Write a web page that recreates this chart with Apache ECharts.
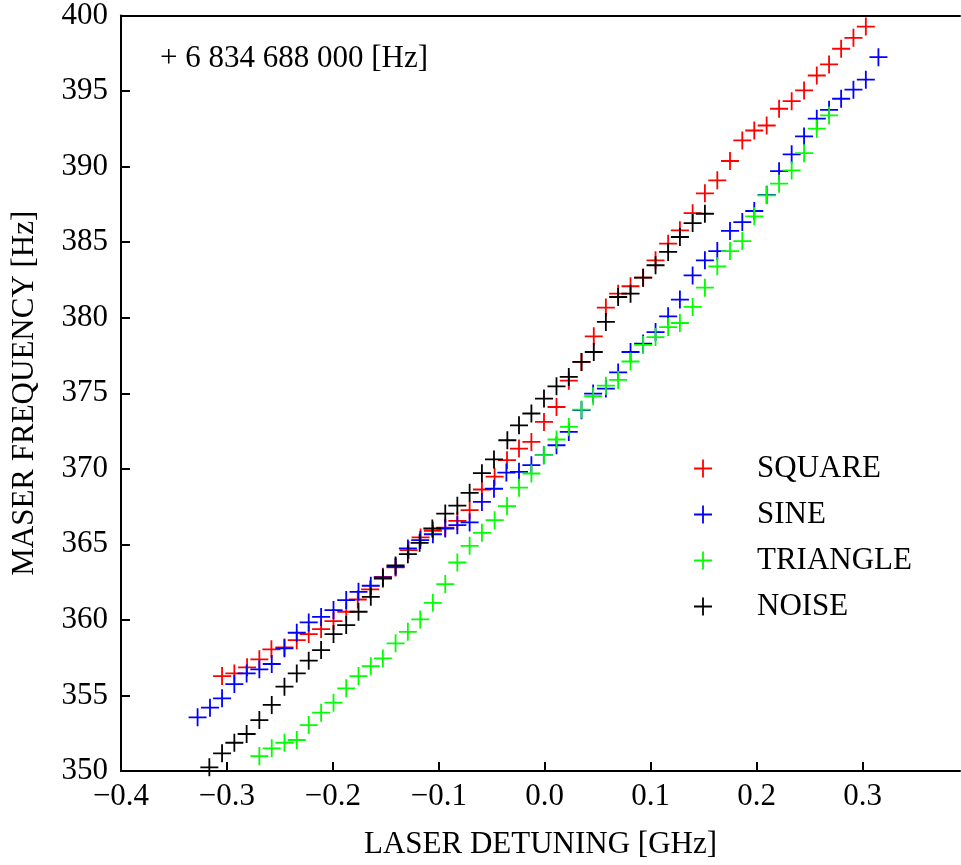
<!DOCTYPE html>
<html>
<head>
<meta charset="utf-8">
<script src="https://cdn.jsdelivr.net/npm/echarts@6/dist/echarts.min.js"></script>
<style>html,body{margin:0;padding:0;background:#fff;}#chart{width:961px;height:865px;}</style>
</head>
<body>
<div id="chart"></div>
<script>
// ---- data ----
var seriesNames = ['SQUARE', 'SINE', 'TRIANGLE', 'NOISE'];
var xTicks = [-0.4, -0.3, -0.2, -0.1, 0.0, 0.1, 0.2, 0.3];
var yTicks = [350, 355, 360, 365, 370, 375, 380, 385, 390, 395, 400];

var squareX = [-0.3046,-0.293,-0.281,-0.2694,-0.258,-0.2457,-0.2341,-0.2228,-0.2111,-0.1994,-0.1874,-0.1765,-0.1648,-0.1528,-0.1408,-0.1285,-0.1172,-0.1056,-0.0939,-0.0825,-0.0709,-0.0593,-0.0473,-0.0356,-0.0243,-0.0126,-0.0007,0.0111,0.0227,0.0347,0.0463,0.0577,0.0693,0.081,0.0929,0.1046,0.1165,0.1276,0.1396,0.1512,0.1629,0.1749,0.1865,0.1978,0.2095,0.2212,0.2331,0.2448,0.2568,0.2684,0.2798,0.2914,0.3031];
var squareY = [356.28,356.46,356.86,357.39,358.05,358.18,358.66,359.06,359.39,359.92,360.54,361.35,362.02,362.85,363.47,364.62,365.46,365.9,366.1,366.55,367.26,368.63,369.48,370.57,371.34,371.78,373.1,374.09,375.83,377.07,378.77,380.67,381.59,382.08,382.65,383.8,384.9,385.78,386.92,388.23,389.09,390.37,391.73,392.39,392.72,393.83,394.33,395.04,396.03,396.76,397.8,398.52,399.27];

var sineX = [-0.3277,-0.316,-0.3046,-0.293,-0.2814,-0.2694,-0.2577,-0.2457,-0.2341,-0.2228,-0.2111,-0.1994,-0.1874,-0.1758,-0.1642,-0.1528,-0.1408,-0.1292,-0.1175,-0.1056,-0.0939,-0.0825,-0.0709,-0.0593,-0.0479,-0.0362,-0.0243,-0.0126,-0.0009,0.0111,0.0227,0.0347,0.0457,0.0577,0.0693,0.081,0.0929,0.1046,0.1165,0.1276,0.1396,0.1512,0.1629,0.1749,0.1865,0.1978,0.2095,0.2212,0.2331,0.2448,0.2568,0.2684,0.2798,0.2914,0.3031,0.315];
var sineY = [353.55,354.19,354.81,355.75,356.46,356.73,357.08,358.12,359.15,359.83,360.2,360.65,361.31,361.86,362.26,362.81,363.51,364.73,365.28,365.67,366.05,366.27,366.45,367.81,368.68,369.75,369.8,370.24,370.9,371.56,372.44,373.88,374.98,375.31,376.38,377.73,378.29,379.05,380.09,381.2,382.8,383.8,384.41,385.74,386.33,387.06,388.13,389.7,390.81,392.0,393.17,393.76,394.49,395.09,395.75,397.24];

var triangleX = [-0.2694,-0.2577,-0.2457,-0.2341,-0.2228,-0.2111,-0.1994,-0.1874,-0.1758,-0.1642,-0.1528,-0.1408,-0.1292,-0.1175,-0.1056,-0.0939,-0.0825,-0.0709,-0.0593,-0.0473,-0.0356,-0.0243,-0.0126,-0.0007,0.0111,0.0227,0.0347,0.0457,0.0577,0.0693,0.081,0.0929,0.1046,0.1165,0.1276,0.1396,0.1512,0.1629,0.1749,0.1865,0.1978,0.2095,0.2212,0.2331,0.2448,0.2568,0.2684];
var triangleY = [350.99,351.5,351.87,352.05,353.04,353.86,354.52,355.47,356.28,356.94,357.45,358.45,359.21,360.03,361.13,362.37,363.8,364.9,365.76,366.6,367.53,368.75,369.69,370.9,371.94,372.77,373.92,374.8,375.5,375.88,377.1,378.2,378.72,379.38,379.65,380.71,381.99,383.4,384.41,385.07,386.71,388.1,388.87,389.75,390.89,392.51,393.39];

var noiseX = [-0.3166,-0.3046,-0.293,-0.2814,-0.2694,-0.2577,-0.2457,-0.2341,-0.2228,-0.2111,-0.1994,-0.1874,-0.1758,-0.1642,-0.1528,-0.1408,-0.1292,-0.1181,-0.1061,-0.0939,-0.0825,-0.0709,-0.0593,-0.0479,-0.0353,-0.0243,-0.0126,-0.0007,0.0111,0.0227,0.0347,0.0463,0.0577,0.0693,0.081,0.0929,0.1046,0.1165,0.1276,0.1396,0.1512];
var noiseY = [350.24,351.17,351.87,352.45,353.37,354.37,355.58,356.46,357.3,358.0,359.06,359.66,360.54,361.53,362.74,363.6,364.35,365.1,366.05,367.04,367.56,368.41,369.71,370.62,371.89,372.88,373.66,374.65,375.46,376.08,377.07,377.73,379.72,381.37,381.59,382.65,383.47,384.35,385.34,386.26,386.88];

var offsetLabel = '+ 6 834 688 000 [Hz]';
var xName = 'LASER DETUNING [GHz]';
var yName = 'MASER FREQUENCY [Hz]';
var colors = ['#ff0000', '#0000ff', '#00ff00', '#000000'];

// ---- build ----
function zip(xs, ys) { return xs.map(function (x, i) { return [x, ys[i]]; }); }
var allData = [zip(squareX, squareY), zip(sineX, sineY), zip(triangleX, triangleY), zip(noiseX, noiseY)];

var FONT = '"Liberation Serif", "DejaVu Serif", serif';
var FS = 31;
var plus = 'path://M9,0 L11,0 L11,9 L20,9 L20,11 L11,11 L11,20 L9,20 L9,11 L0,11 L0,9 L9,9 Z';

function fmtX(v) {
  for (var i = 0; i < xTicks.length; i++) {
    if (Math.abs(v - xTicks[i]) < 1e-6) {
      return xTicks[i].toFixed(1).replace('-', '\u2212');
    }
  }
  return '';
}

var chart = echarts.init(document.getElementById('chart'), null, { renderer: 'canvas' });
chart.setOption({
  backgroundColor: '#ffffff',
  animation: false,
  textStyle: { fontFamily: FONT },
  grid: { left: 121, right: 1, top: 15, bottom: 94, containLabel: false },
  xAxis: [{
    type: 'value',
    min: xTicks[0],
    max: 0.392,
    interval: 0.1,
    name: xName,
    nameLocation: 'middle',
    nameGap: 58,
    nameTextStyle: { fontFamily: FONT, fontSize: FS, color: '#000' },
    axisLine: { show: true, onZero: false, lineStyle: { color: '#000', width: 2 } },
    axisTick: { show: true, inside: true, length: 9, lineStyle: { color: '#000', width: 2 } },
    axisLabel: { formatter: fmtX, fontFamily: FONT, fontSize: FS, color: '#000', margin: 10, showMaxLabel: false },
    splitLine: { show: false }
  }, {
    type: 'value',
    position: 'top',
    min: xTicks[0],
    max: 0.392,
    axisLine: { show: true, onZero: false, lineStyle: { color: '#000', width: 2 } },
    axisTick: { show: false },
    axisLabel: { show: false },
    splitLine: { show: false }
  }],
  yAxis: {
    type: 'value',
    min: yTicks[0],
    max: yTicks[yTicks.length - 1],
    interval: 5,
    name: yName,
    nameLocation: 'middle',
    nameGap: 81,
    nameRotate: 90,
    nameTextStyle: { fontFamily: FONT, fontSize: FS, color: '#000' },
    axisLine: { show: true, onZero: false, lineStyle: { color: '#000', width: 2 } },
    axisTick: { show: true, inside: true, length: 9, lineStyle: { color: '#000', width: 2 } },
    axisLabel: { fontFamily: FONT, fontSize: FS, color: '#000', margin: 13 },
    splitLine: { show: false }
  },
  legend: {
    orient: 'vertical',
    left: 689,
    top: 448,
    itemWidth: 18,
    itemHeight: 18,
    itemGap: 15,
    data: seriesNames.map(function (n) { return { name: n, icon: plus }; }),
    textStyle: { fontFamily: FONT, fontSize: FS, color: '#000', padding: [0, 0, 0, 40] }
  },
  graphic: [{
    type: 'text',
    left: 160,
    top: 43,
    style: { text: offsetLabel, font: FS + 'px ' + FONT, fill: '#000' }
  }],
  series: seriesNames.map(function (n, i) {
    return {
      name: n,
      type: 'scatter',
      data: allData[i],
      symbol: plus,
      symbolSize: 18,
      itemStyle: { color: colors[i], opacity: 1 },
      z: 2 + i
    };
  })
});
</script>
</body>
</html>
